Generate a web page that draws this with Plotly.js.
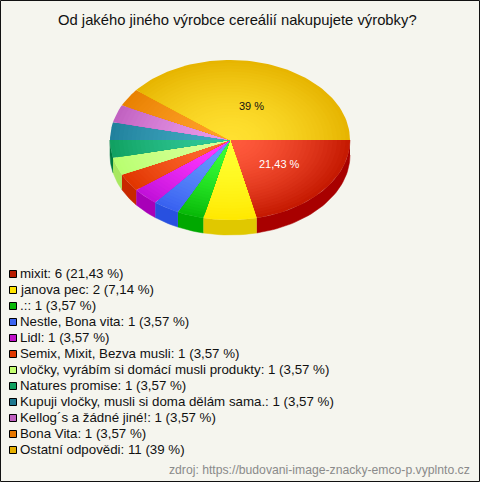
<!DOCTYPE html>
<html><head><meta charset="utf-8">
<script src="https://cdn.plot.ly/plotly-3.0.1.min.js"></script>
<style>html,body{margin:0;padding:0;background:#f5f5ee}#c{width:480px;height:482px}</style>
</head><body><div id="c"></div>
<script>
const labels=["mixit","janova pec",".:","Nestle, Bona vita","Lidl","Semix, Mixit, Bezva musli","vločky, vyrábím si domácí musli produkty","Natures promise","Kupuji vločky, musli si doma dělám sama.","Kellog´s a žádné jiné!","Bona Vita","Ostatní odpovědi"];
const values=[6,2,1,1,1,1,1,1,1,1,1,11];
const percents=["21,43","7,14","3,57","3,57","3,57","3,57","3,57","3,57","3,57","3,57","3,57","39"];
const rimColors=["#c41800","#ffe800","#08b808","#3860f0","#c010d8","#e03400","#b8ff70","#10a060","#20809c","#c060c0","#e88000","#e6b400"];
const hubColors=["#ff5a3c","#ffff30","#38ff38","#6898ff","#ff38ff","#ff6a30","#d8ff98","#30c898","#40a8c0","#e898e8","#ffa028","#ffe030"];
const sideColors=["#a80000","#e0c800","#00a800","#2850e0","#a800b8","#c82800","#a8e860","#007a40","#1f8098","#c060c0","#e88000","#e6b400"];
const swatchColors=["#b81c00","#ffe400","#08b808","#3c64f0","#c010c8","#e03800","#c4ff70","#10a060","#1f7890","#c060c0","#e87800","#e6b000"];
const title="Od jakého jiného výrobce cereálií nakupujete výrobky?";
const source="zdroj: https://budovani-image-znacky-emco-p.vyplnto.cz";

const cx=230,cy=140,rx=120,ry=80,depth=15,rings=28;
const total=values.reduce((a,b)=>a+b,0);
const traces=[];
const rad=d=>d*Math.PI/180;
function arc(a0,a1,dy,k){const xs=[],ys=[];const n=Math.max(2,Math.ceil((a1-a0)/2));
  for(let i=0;i<=n;i++){const t=rad(a0+(a1-a0)*i/n);xs.push(cx+k*rx*Math.cos(t));ys.push(cy+dy+k*ry*Math.sin(t));}
  return [xs,ys];}
const rgb=h=>[1,3,5].map(p=>parseInt(h.substr(p,2),16));
function mix(a,b,f){const A=rgb(a),B=rgb(b);return 'rgb('+A.map((v,i)=>Math.round(v+(B[i]-v)*f)).join(',')+')';}
let start=0;const spans=values.map(v=>{const s=[start,start+v/total*360];start=s[1];return s;});
spans.forEach((s,i)=>{
  if(s[0]>=180)return;
  const a1=Math.min(s[1],180);
  const [x0,y0]=arc(s[0],a1,0,1),[x1,y1]=arc(s[0],a1,depth,1);
  traces.push({type:'scatter',mode:'lines',x:x0.concat(x1.reverse()),y:y0.concat(y1.reverse()),fill:'toself',fillcolor:sideColors[i],line:{width:0.5,color:sideColors[i]},hoverinfo:'skip'});
});
spans.forEach((s,i)=>{
  for(let r=rings;r>=1;r--){
    const k=r/rings;
    const [x,y]=arc(s[0],s[1],0,k);
    const c=mix(hubColors[i],rimColors[i],Math.pow((r-0.5)/rings,1.6));
    traces.push({type:'scatter',mode:'lines',x:[cx].concat(x,[cx]),y:[cy].concat(y,[cy]),fill:'toself',fillcolor:c,line:{width:0},hoverinfo:'skip'});
  }
});
const rowY=labels.map((_,i)=>273.5+16*i);
traces.push({type:'scatter',mode:'markers',x:labels.map(()=>13),y:labels.map((_,i)=>274+16*i),hoverinfo:'skip',
  marker:{symbol:'square',size:7,color:swatchColors,line:{width:1,color:'#000'}}});
const ann=labels.map((l,i)=>({x:18,y:rowY[i],xref:'x',yref:'y',xanchor:'left',yanchor:'middle',showarrow:false,
  text:l+": "+values[i]+" ("+percents[i]+" %)",font:{size:13.3,color:'#111'}}));
ann.push({x:237.5,y:20,xref:'x',yref:'y',xanchor:'center',yanchor:'middle',showarrow:false,text:title,font:{size:14.8,color:'#111'}});
ann.push({x:472,y:469.5,xref:'x',yref:'y',xanchor:'right',yanchor:'middle',showarrow:false,text:source,font:{size:12.2,color:'#8a8a8a'}});
ann.push({x:251.5,y:106,xref:'x',yref:'y',showarrow:false,text:percents[11]+" %",font:{size:11,color:'#111'}});
ann.push({x:279.5,y:164,xref:'x',yref:'y',showarrow:false,text:percents[0]+" %",font:{size:11,color:'#fff'}});
Plotly.newPlot('c',traces,{
  width:480,height:482,margin:{l:0,r:0,t:0,b:0},showlegend:false,
  paper_bgcolor:'#f5f5ee',plot_bgcolor:'#f5f5ee',
  font:{family:'"Liberation Sans",Arial,sans-serif'},
  xaxis:{range:[0,480],visible:false,fixedrange:true},
  yaxis:{range:[482,0],visible:false,fixedrange:true},
  annotations:ann,
  shapes:[{type:'rect',xref:'x',yref:'y',x0:0.5,x1:479.5,y0:0.5,y1:481.5,line:{color:'#111',width:1}}]
},{displayModeBar:false,responsive:false});
</script></body></html>
